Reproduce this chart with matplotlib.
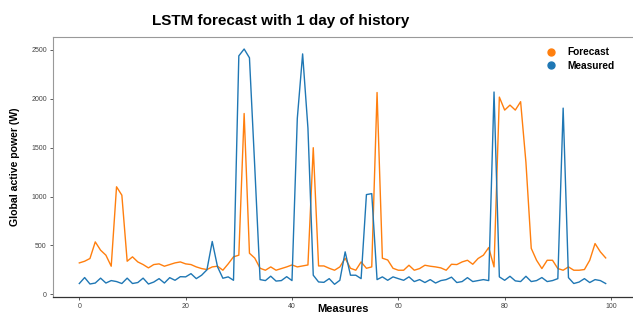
import matplotlib
matplotlib.use("Agg")
import matplotlib.pyplot as plt
from matplotlib.lines import Line2D

forecast = [321, 338, 366, 536, 451, 400, 287, 1100, 1014, 338,
            383, 331, 304, 270, 304, 311, 287, 304, 321, 331,
            311, 304, 280, 263, 253, 280, 287, 246, 311, 383,
            400, 1850, 420, 370, 266, 246, 280, 246, 263, 280,
            300, 280, 290, 300, 1500, 290, 290, 266, 246, 280,
            369, 266, 246, 331, 266, 280, 2065, 369, 351, 266,
            246, 246, 297, 246, 263, 297, 287, 280, 270, 246,
            307, 304, 331, 348, 307, 366, 400, 478, 280, 2018,
            1885, 1936, 1885, 1971, 1350, 470, 348, 263, 348, 348,
            263, 246, 280, 246, 246, 253, 348, 519, 434, 372]

measured = [110, 171, 105, 115, 165, 115, 140, 130, 110, 165,
            110, 120, 165, 105, 125, 160, 115, 170, 143, 180,
            178, 211, 160, 195, 250, 540, 280, 164, 178, 143,
            2440, 2510, 2420, 1300, 150, 140, 185, 135, 140, 180,
            140, 1800, 2460, 1700, 195, 126, 122, 160, 102, 143,
            434, 195, 195, 160, 1020, 1030, 150, 178, 143, 178,
            160, 143, 178, 130, 150, 120, 150, 115, 140, 150,
            175, 120, 130, 170, 130, 140, 150, 140, 2070, 178,
            143, 184, 137, 130, 184, 130, 140, 171, 130, 140,
            160, 1905, 170, 110, 125, 160, 120, 150, 140, 110]

x = list(range(len(forecast)))
xticks = [0, 20, 40, 60, 80, 100]
yticks = [0, 500, 1000, 1500, 2000, 2500]

title = "LSTM forecast with 1 day of history"
xlabel = "Measures"
ylabel = "Global active power (W)"
labels = ["Forecast", "Measured"]

c_fore = "#ff7f0e"
c_meas = "#1f77b4"

plt.rcParams['font.family'] = ['Liberation Sans', 'DejaVu Sans']

fig = plt.figure(figsize=(6.33, 3.17), dpi=100)
ax = fig.add_axes([53/633, 1-297/317, (632-53)/633, (297-37)/317])

ax.plot(x, forecast, color=c_fore, lw=1.0)
ax.plot(x, measured, color=c_meas, lw=1.0)

ax.set_xlim(-4.95, 103.95)
ax.set_ylim(-28, 2633)
ax.set_xticks(xticks)
ax.set_yticks(yticks)
ax.tick_params(axis='both', labelsize=5, colors='#444444', length=2.5, width=0.6, pad=2)

for s in ['top', 'left']:
    ax.spines[s].set_color('#999999')
    ax.spines[s].set_linewidth(0.8)
ax.spines['right'].set_visible(False)
ax.spines['bottom'].set_color('#333333')
ax.spines['bottom'].set_linewidth(0.9)

ax.set_title(title, fontsize=11, fontweight='bold', x=(281-53)/(632-53), pad=9)
ax.set_xlabel(xlabel, fontsize=8, fontweight='bold')
ax.xaxis.set_label_coords(0.5, -7.0/260)
ax.set_ylabel(ylabel, fontsize=7.6, fontweight='bold', labelpad=8)

handles = [Line2D([], [], marker='o', linestyle='None', color=c_fore, markersize=5),
           Line2D([], [], marker='o', linestyle='None', color=c_meas, markersize=5)]
ax.legend(handles, labels, loc='upper right', bbox_to_anchor=(624/633, 1-38/317),
          bbox_transform=fig.transFigure, frameon=False,
          prop={'size': 7.3, 'weight': 'bold'}, handletextpad=1.1, labelspacing=0.35,
          handlelength=1.0)

fig.savefig("out.png", dpi=100)
